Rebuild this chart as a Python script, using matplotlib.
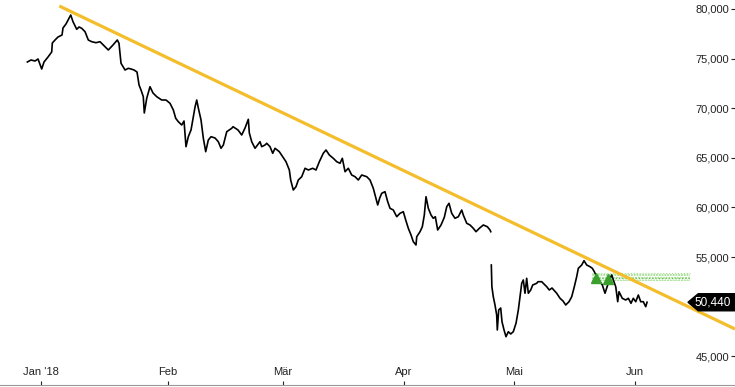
import matplotlib
matplotlib.use("Agg")
import matplotlib.pyplot as plt
from matplotlib.patches import Polygon
import numpy as np

plt.rcParams['font.family'] = ['Liberation Sans', 'DejaVu Sans']

# trading-day positions (x) and prices
t1 = [-2.42, -1.77, -1.06, -0.53, 0.12, 0.53, 1.24, 1.89, 2.0, 2.48, 3.01, 3.72, 3.89, 4.42, 4.96, 5.26,
      5.66, 6.32, 6.73, 7.2, 7.79, 8.37, 8.97, 9.73, 10.44, 11.33, 11.91, 12.74, 13.5, 13.8, 14.16, 14.87,
      15.45, 15.93, 16.46, 16.99, 17.35, 17.7, 18.1, 18.28, 18.71, 19.29, 19.82, 20.48, 21.36, 22.12, 22.83,
      23.42, 23.84, 24.3, 24.9, 25.31, 25.66, 26.07, 26.55, 26.96, 27.26, 27.56, 27.84, 28.32, 28.73, 29.15,
      29.61, 30.09, 30.8, 31.38, 31.86, 32.27, 32.87, 33.75, 33.98, 34.87, 35.52, 36.11, 36.69, 36.87, 37.29,
      37.88, 38.18, 38.76, 39.06, 39.65, 39.95, 40.53, 41.01, 41.42, 42.18, 42.78, 43.36, 43.95, 44.19, 44.65,
      45.13, 45.54, 46.14, 46.73, 47.31, 48.09, 48.67, 49.26, 49.96, 50.44, 51.03, 51.73, 52.34, 52.92, 53.33,
      53.81, 54.39, 54.99, 55.58, 56.16, 56.76, 57.65, 58.23, 58.81, 59.12, 59.59, 59.95, 60.3, 60.88, 61.36,
      61.77, 62.35, 62.96, 63.54, 64.12, 64.55, 65.01, 65.49, 65.89, 66.37, 66.5, 67.08, 67.49, 67.84, 68.14,
      68.55, 69.03, 69.43, 69.79, 70.21, 70.8, 71.38, 71.81, 72.21, 72.69, 73.27, 73.86, 74.46, 74.74, 75.35,
      75.93, 76.51, 76.99, 77.58, 78.28, 78.99, 79.47, 79.6]
p1 = [74658, 74859, 74758, 74960, 73952, 74658, 75162, 75666, 76573, 76875, 77178, 77379, 78085, 78488, 79063,
      79395, 78720, 77954, 78186, 78055, 77712, 76875, 76704, 76603, 76704, 76200, 75867, 76371, 76875, 76543,
      74527, 73851, 74022, 73952, 73851, 73650, 72339, 71835, 71160, 69517, 70999, 72168, 71533, 71160, 70827,
      70827, 70494, 69819, 68982, 68640, 68307, 68710, 66120, 67128, 67803, 69144, 70122, 70827, 70021, 68811,
      66966, 65616, 66795, 67128, 66997, 66624, 65959, 66291, 67632, 67974, 68136, 67803, 67299, 68005, 68882,
      67500, 66624, 65959, 66190, 66624, 66120, 66291, 66462, 66120, 65455, 65959, 65616, 65112, 64608, 63771,
      62763, 61755, 62088, 62763, 63096, 63943, 63771, 63943, 63771, 64608, 65455, 65787, 65283, 64950, 64608,
      64446, 64950, 63600, 63943, 63267, 63096, 62763, 63267, 63096, 62763, 61926, 61251, 60243, 60948, 61422,
      61584, 60576, 59910, 59739, 59064, 59406, 59567, 58731, 57894, 57219, 56544, 56211, 57047, 57551, 58055,
      59235, 61080, 59910, 59235, 58902, 59064, 57723, 58227, 59003, 60071, 60414, 59406, 58902, 59064, 59739,
      59235, 58398, 58227, 57894, 57551, 57894, 58227, 58055, 57723, 57551]
t2 = [79.7, 79.8, 80.05, 80.35, 80.65, 80.76, 81.01, 81.36, 81.59, 81.95, 82.3, 82.71, 83.13, 83.59, 84.07,
      84.48, 84.78, 85.08, 85.36, 85.66, 85.96, 86.25, 86.67, 87.03, 87.73, 87.96, 88.62, 89.5, 89.96, 90.44,
      91.27, 91.86, 92.39, 92.87, 93.45, 93.93, 94.39, 94.81, 95.1, 95.7, 96.11, 96.58, 97.17, 97.58, 97.93,
      98.35, 98.94, 99.35, 99.82, 100.3, 100.71, 101.01, 101.29, 101.72, 102.07, 102.3, 102.88, 103.49, 103.95,
      104.42, 104.83, 105.26, 105.72, 106.14, 106.6, 107.03, 107.26]
p2 = [54195, 52008, 51000, 50163, 49155, 47643, 49658, 49860, 48479, 47643, 46968, 47472, 47240, 47472, 48318,
      49658, 51000, 52350, 52687, 51346, 52854, 51346, 51675, 52182, 52350, 52512, 52512, 52008, 51675, 51876,
      51346, 50838, 50566, 50163, 50495, 50999, 52008, 53016, 53863, 54195, 54629, 54195, 54024, 53863, 53520,
      53016, 52512, 52182, 51346, 52182, 52854, 53187, 52683, 52008, 50496, 51504, 50838, 50667, 50838, 50334,
      50838, 50495, 51171, 50495, 50495, 49991, 50440]

trend_t = [3.24, 122.83]
trend_p = [80300, 47744]

signal_t = [98.23, 100.35]
signal_p = [52850, 52800]

band_t = [97.5, 114.9]
band_lo, band_hi = 52600, 53350

last_price = 50440
last_label = "50,440"

month_pos = [0.05, 22.45, 42.8, 64.2, 83.8, 105.1]
month_lab = ["Jan '18", "Feb", "Mär", "Apr", "Mai", "Jun"]
yticks = [45000, 50000, 55000, 60000, 65000, 70000, 75000, 80000]
ylabels = ["45,000", "", "55,000", "60,000", "65,000", "70,000", "75,000", "80,000"]

fig = plt.figure(figsize=(7.35, 3.87), dpi=100)
ax = fig.add_axes([0, 2 / 387, 1, 385 / 387])
ax.set_xlim(-7.26, 122.83)
ax.set_ylim(42099, 80907)

# band
ax.fill_between(band_t, band_lo, band_hi, facecolor='none', edgecolor='#8fd67a', hatch='......', linewidth=0)
ax.plot(band_t, [band_hi, band_hi], color='#a6e08f', lw=0.8, ls=':')
ax.plot(band_t, [band_lo + 250, band_lo + 250], color='#5cbf45', lw=0.9, ls=':')

ax.plot(trend_t, trend_p, color='#f4bd2c', lw=2.3, solid_capstyle='butt', zorder=3)

ax.plot(t1, p1, color='black', lw=1.2, zorder=4)
ax.plot(t2, p2, color='black', lw=1.2, zorder=4)

ax.plot(signal_t, signal_p, ls='none', marker='^', ms=7, color='#3aa02c', zorder=5)

for s in ['top', 'left', 'right']:
    ax.spines[s].set_visible(False)
ax.spines['bottom'].set_color('#999999')

ax.set_xticks(month_pos)
ax.set_xticklabels(month_lab)
ax.tick_params(axis='x', direction='in', length=3, pad=-13, labelsize=8, colors='#222222')

ax.yaxis.tick_right()
ax.set_yticks(yticks)
ax.set_yticklabels(ylabels)
ax.tick_params(axis='y', direction='in', length=3, pad=-4, labelsize=8, colors='#222222')
for lab in ax.get_yticklabels():
    lab.set_horizontalalignment('right')

# last price tag
tr = ax.get_yaxis_transform()
h = 860
tag = Polygon([(0.936, last_price), (0.950, last_price + h), (1.0, last_price + h),
               (1.0, last_price - h), (0.950, last_price - h)], closed=True,
              facecolor='black', edgecolor='black', transform=tr, zorder=6, clip_on=False)
ax.add_patch(tag)
ax.text(0.994, last_price, last_label, transform=tr, ha='right', va='center', color='white',
        fontsize=8.5, zorder=7)

fig.savefig('out.png', dpi=100)
